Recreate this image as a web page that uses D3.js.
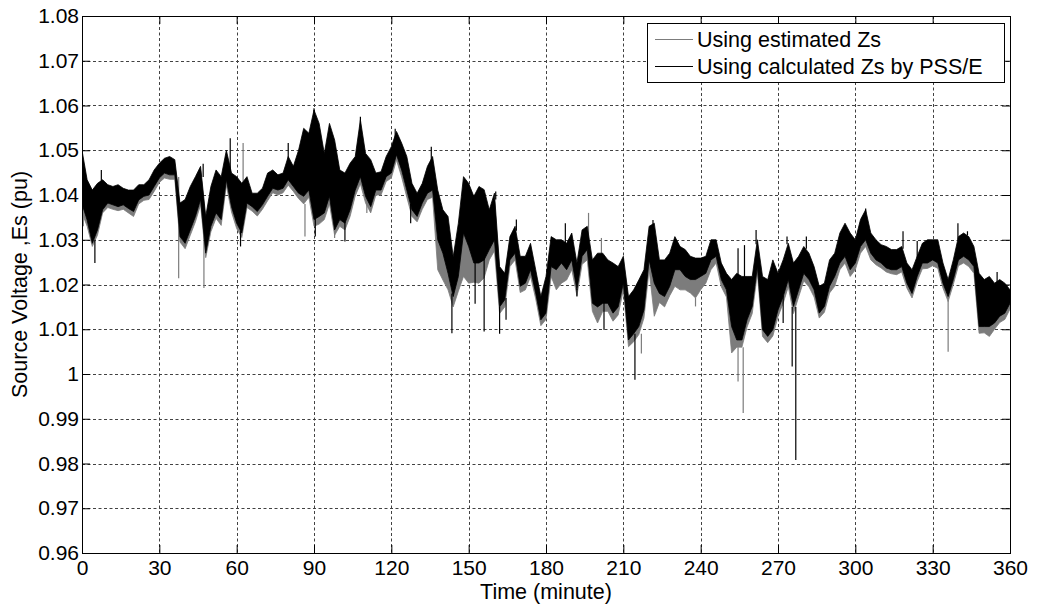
<!DOCTYPE html>
<html>
<head>
<meta charset="utf-8">
<script src="https://cdn.jsdelivr.net/npm/d3@7"></script>
<style>
  body { margin: 0; background: #fff; }
  svg { display: block; }
  text { font-family: "Liberation Sans", Arial, sans-serif; fill: #000; }
</style>
</head>
<body>
<div id="chart"></div>
<script>
// sample instants (minutes)
var times = [0,2,4,6,8,10,12,14,16,18,20,22,24,26,28,30,32,34,36,38,40,42,44,46,48,50,52,54,56,58,
  60,62,64,66,68,70,72,74,76,78,80,82,84,86,88,90,92,94,96,98,100,102,104,106,108,110,112,114,116,118,
  120,122,124,126,128,130,132,134,136,138,140,142,144,146,148,150,152,154,156,158,160,162,164,166,168,170,172,174,176,178,
  180,182,184,186,188,190,192,194,196,198,200,202,204,206,208,210,212,214,216,218,220,222,224,226,228,230,232,234,236,238,
  240,242,244,246,248,250,252,254,256,258,260,262,264,266,268,270,272,274,276,278,280,282,284,286,288,290,292,294,296,298,
  300,302,304,306,308,310,312,314,316,318,320,322,324,326,328,330,332,334,336,338,340,342,344,346,348,350,352,354,356,358,360];

// upper / lower envelope of the trace using Zs calculated by PSS/E
var calcHi = [1.0500,1.0434,1.0411,1.0426,1.0434,1.0423,1.0419,1.0423,1.0415,1.0411,1.0411,1.0423,1.0423,1.0434,1.0456,1.0471,1.0482,1.0486,1.0479,1.0382,
  1.0390,1.0419,1.0441,1.0464,1.0352,1.0419,1.0456,1.0441,1.0500,1.0449,1.0441,1.0426,1.0441,1.0404,1.0404,1.0415,1.0449,1.0456,1.0445,1.0449,
  1.0486,1.0464,1.0500,1.0549,1.0538,1.0590,1.0560,1.0493,1.0560,1.0523,1.0456,1.0449,1.0471,1.0486,1.0568,1.0493,1.0479,1.0449,1.0452,1.0486,
  1.0508,1.0542,1.0516,1.0486,1.0426,1.0404,1.0426,1.0464,1.0486,1.0411,1.0367,1.0352,1.0262,1.0337,1.0441,1.0426,1.0397,1.0419,1.0412,1.0367,
  1.0404,1.0240,1.0225,1.0307,1.0330,1.0263,1.0263,1.0292,1.0233,1.0173,1.0218,1.0307,1.0300,1.0300,1.0292,1.0315,1.0248,1.0322,1.0330,1.0255,
  1.0270,1.0270,1.0255,1.0248,1.0240,1.0263,1.0173,1.0188,1.0210,1.0233,1.0330,1.0337,1.0255,1.0255,1.0270,1.0307,1.0285,1.0278,1.0263,1.0259,
  1.0259,1.0263,1.0300,1.0300,1.0248,1.0225,1.0211,1.0225,1.0218,1.0218,1.0218,1.0300,1.0218,1.0211,1.0255,1.0225,1.0255,1.0292,1.0248,1.0263,
  1.0285,1.0270,1.0240,1.0196,1.0203,1.0255,1.0270,1.0315,1.0337,1.0315,1.0300,1.0345,1.0367,1.0315,1.0300,1.0289,1.0285,1.0278,1.0278,1.0285,
  1.0248,1.0233,1.0263,1.0292,1.0300,1.0300,1.0300,1.0248,1.0211,1.0255,1.0307,1.0315,1.0307,1.0285,1.0225,1.0211,1.0218,1.0203,1.0211,1.0203,1.0188];
var calcLo = [1.0380,1.0344,1.0292,1.0322,1.0367,1.0382,1.0378,1.0374,1.0378,1.0370,1.0363,1.0389,1.0397,1.0400,1.0419,1.0438,1.0449,1.0445,1.0445,1.0307,
  1.0292,1.0322,1.0352,1.0390,1.0270,1.0330,1.0360,1.0345,1.0434,1.0374,1.0337,1.0315,1.0382,1.0374,1.0363,1.0378,1.0397,1.0415,1.0411,1.0415,
  1.0434,1.0419,1.0404,1.0397,1.0411,1.0345,1.0352,1.0360,1.0397,1.0322,1.0345,1.0337,1.0367,1.0411,1.0441,1.0397,1.0374,1.0411,1.0411,1.0441,
  1.0449,1.0490,1.0456,1.0411,1.0367,1.0352,1.0382,1.0404,1.0411,1.0300,1.0270,1.0225,1.0173,1.0218,1.0315,1.0285,1.0248,1.0248,1.0255,1.0278,
  1.0300,1.0150,1.0166,1.0255,1.0270,1.0196,1.0203,1.0233,1.0181,1.0121,1.0136,1.0240,1.0233,1.0248,1.0233,1.0255,1.0188,1.0263,1.0278,1.0158,
  1.0150,1.0158,1.0158,1.0136,1.0150,1.0203,1.0076,1.0090,1.0106,1.0143,1.0255,1.0203,1.0180,1.0173,1.0196,1.0233,1.0233,1.0218,1.0211,1.0211,
  1.0218,1.0225,1.0255,1.0263,1.0211,1.0188,1.0106,1.0076,1.0076,1.0121,1.0151,1.0240,1.0099,1.0084,1.0099,1.0143,1.0173,1.0211,1.0151,1.0188,
  1.0225,1.0211,1.0188,1.0136,1.0151,1.0196,1.0218,1.0248,1.0263,1.0233,1.0248,1.0285,1.0300,1.0270,1.0255,1.0248,1.0237,1.0233,1.0233,1.0240,
  1.0203,1.0180,1.0218,1.0248,1.0248,1.0255,1.0248,1.0203,1.0173,1.0211,1.0255,1.0263,1.0255,1.0240,1.0106,1.0106,1.0106,1.0114,1.0129,1.0136,1.0158];

// upper / lower envelope of the trace using estimated Zs
var estHi = [1.0490,1.0425,1.0400,1.0415,1.0425,1.0415,1.0410,1.0415,1.0408,1.0402,1.0402,1.0415,1.0415,1.0425,1.0448,1.0462,1.0474,1.0478,1.0470,1.0372,
  1.0380,1.0410,1.0432,1.0455,1.0342,1.0410,1.0448,1.0432,1.0490,1.0440,1.0432,1.0418,1.0432,1.0396,1.0396,1.0406,1.0440,1.0447,1.0436,1.0440,
  1.0476,1.0455,1.0490,1.0538,1.0527,1.0578,1.0548,1.0482,1.0548,1.0512,1.0446,1.0438,1.0460,1.0476,1.0555,1.0482,1.0468,1.0440,1.0443,1.0476,
  1.0498,1.0532,1.0505,1.0474,1.0415,1.0394,1.0415,1.0452,1.0474,1.0390,1.0340,1.0320,1.0240,1.0310,1.0420,1.0400,1.0375,1.0395,1.0390,1.0350,
  1.0388,1.0228,1.0212,1.0295,1.0318,1.0250,1.0250,1.0280,1.0222,1.0162,1.0205,1.0285,1.0270,1.0268,1.0262,1.0280,1.0232,1.0305,1.0310,1.0240,
  1.0255,1.0255,1.0240,1.0232,1.0225,1.0248,1.0158,1.0172,1.0195,1.0218,1.0310,1.0315,1.0235,1.0235,1.0250,1.0280,1.0258,1.0250,1.0238,1.0232,
  1.0235,1.0245,1.0275,1.0278,1.0232,1.0210,1.0195,1.0208,1.0200,1.0200,1.0200,1.0285,1.0200,1.0195,1.0240,1.0210,1.0240,1.0275,1.0232,1.0248,
  1.0268,1.0252,1.0222,1.0180,1.0188,1.0235,1.0250,1.0295,1.0318,1.0295,1.0282,1.0325,1.0348,1.0298,1.0283,1.0272,1.0268,1.0262,1.0262,1.0268,
  1.0232,1.0218,1.0248,1.0276,1.0284,1.0284,1.0284,1.0232,1.0196,1.0240,1.0290,1.0297,1.0290,1.0268,1.0208,1.0195,1.0202,1.0188,1.0196,1.0188,1.0175];
var estLo = [1.0360,1.0330,1.0285,1.0310,1.0360,1.0372,1.0368,1.0365,1.0368,1.0360,1.0352,1.0380,1.0388,1.0390,1.0408,1.0428,1.0438,1.0435,1.0435,1.0295,
  1.0280,1.0310,1.0340,1.0378,1.0260,1.0318,1.0348,1.0332,1.0422,1.0362,1.0325,1.0305,1.0372,1.0364,1.0353,1.0368,1.0387,1.0405,1.0400,1.0405,
  1.0422,1.0408,1.0392,1.0380,1.0395,1.0330,1.0335,1.0345,1.0380,1.0310,1.0330,1.0322,1.0352,1.0398,1.0425,1.0382,1.0360,1.0400,1.0400,1.0430,
  1.0438,1.0478,1.0440,1.0395,1.0352,1.0340,1.0368,1.0390,1.0395,1.0233,1.0210,1.0188,1.0150,1.0185,1.0218,1.0203,1.0205,1.0203,1.0215,1.0255,
  1.0275,1.0135,1.0150,1.0240,1.0255,1.0182,1.0188,1.0218,1.0168,1.0108,1.0122,1.0218,1.0188,1.0203,1.0210,1.0233,1.0175,1.0245,1.0255,1.0140,
  1.0114,1.0140,1.0140,1.0118,1.0132,1.0188,1.0061,1.0072,1.0088,1.0125,1.0233,1.0129,1.0160,1.0150,1.0175,1.0196,1.0188,1.0188,1.0181,1.0170,
  1.0188,1.0203,1.0233,1.0248,1.0195,1.0172,1.0047,1.0060,1.0060,1.0105,1.0135,1.0225,1.0084,1.0070,1.0085,1.0128,1.0158,1.0195,1.0135,1.0172,
  1.0208,1.0195,1.0172,1.0125,1.0138,1.0181,1.0196,1.0233,1.0248,1.0218,1.0233,1.0270,1.0285,1.0255,1.0244,1.0237,1.0228,1.0224,1.0222,1.0228,
  1.0192,1.0170,1.0207,1.0235,1.0236,1.0242,1.0236,1.0192,1.0162,1.0200,1.0242,1.0248,1.0240,1.0225,1.0091,1.0092,1.0084,1.0100,1.0115,1.0122,1.0145];

// isolated spikes: [minute, from, to]
var calcSpikes = [[5,1.0300,1.0248],[7.5,1.0420,1.0456],[47,1.0440,1.0470],[57.5,1.0440,1.0527],[61.5,1.0320,1.0285],
  [80,1.0470,1.0516],[90,1.0560,1.0594],[90.5,1.0350,1.0307],[102,1.0340,1.0296],[108,1.0550,1.0575],[121.5,1.0520,1.0548],
  [127.5,1.0380,1.0337],[135.5,1.0470,1.0508],[143.5,1.0180,1.0091],[152.5,1.0250,1.0157],[156,1.0260,1.0095],[160.5,1.0390,1.0408],
  [162,1.0150,1.0090],[164.5,1.0170,1.0121],[168.5,1.0320,1.0345],[187.5,1.0280,1.0337],[192,1.0190,1.0173],[202.5,1.0160,1.0099],
  [214.5,1.0090,0.9987],[221.5,1.0320,1.0344],[254.5,1.0220,1.0281],[257,1.0215,1.0288],[261.5,1.0290,1.0322],[272,1.0175,1.0114],
  [273.5,1.0290,1.0307],[275.5,1.0150,1.0017],[276.9,1.0150,0.9808],[281,1.0280,1.0307],[304,1.0360,1.0370],[318.5,1.0280,1.0319],
  [324,1.0260,1.0297],[339.8,1.0300,1.0337],[343.5,1.0310,1.0319],[355,1.0200,1.0228]];
var estSpikes = [[0.5,1.0360,1.0330],[37.5,1.0440,1.0214],[47.3,1.0380,1.0192],[62.5,1.0420,1.0516],[86.5,1.0380,1.0307],
  [98,1.0320,1.0304],[110.5,1.0390,1.0360],[196.5,1.0300,1.0360],[201.5,1.0250,1.0304],[217,1.0090,1.0046],[238,1.0170,1.0151],
  [254.5,1.0060,0.9983],[256.5,1.0060,0.9913],[336,1.0165,1.0050]];

var xTicks = [0,30,60,90,120,150,180,210,240,270,300,330,360];
var yTicks = [0.96,0.97,0.98,0.99,1.00,1.01,1.02,1.03,1.04,1.05,1.06,1.07,1.08];
var yTickLabels = ["0.96","0.97","0.98","0.99","1","1.01","1.02","1.03","1.04","1.05","1.06","1.07","1.08"];
var seriesNames = ["Using estimated Zs", "Using calculated Zs by PSS/E"];
var seriesColors = ["#7c7c7c", "#000000"];

var W = 1040, H = 608;
var plotL = 82, plotT = 16, plotR = 1010, plotB = 553;

var svg = d3.select("#chart").append("svg")
  .attr("width", W)
  .attr("height", H);

var x = d3.scaleLinear().domain([0, 360]).range([plotL, plotR]);
var y = d3.scaleLinear().domain([0.96, 1.08]).range([plotB, plotT]);

// dotted grid
var grid = svg.append("g").attr("stroke", "#222").attr("stroke-width", 1)
  .attr("stroke-dasharray", "3,2.5").attr("opacity", 0.85);
grid.selectAll(".gx").data(xTicks.slice(1, -1)).enter().append("line")
  .attr("x1", function(d) { return Math.round(x(d)) + 0.5; })
  .attr("x2", function(d) { return Math.round(x(d)) + 0.5; })
  .attr("y1", plotT).attr("y2", plotB);
grid.selectAll(".gy").data(yTicks.slice(1, -1)).enter().append("line")
  .attr("y1", function(d) { return Math.round(y(d)) + 0.5; })
  .attr("y2", function(d) { return Math.round(y(d)) + 0.5; })
  .attr("x1", plotL).attr("x2", plotR);

svg.append("clipPath").attr("id", "plotClip").append("rect")
  .attr("x", plotL).attr("y", plotT).attr("width", plotR - plotL).attr("height", plotB - plotT);

var plot = svg.append("g").attr("clip-path", "url(#plotClip)");

function band(hi, lo) {
  return d3.area()
    .x(function(d, i) { return x(times[i]); })
    .y0(function(d, i) { return y(lo[i]); })
    .y1(function(d, i) { return y(hi[i]); })(times);
}

function drawTrace(hi, lo, spikes, color) {
  plot.append("path")
    .attr("d", band(hi, lo))
    .attr("fill", color)
    .attr("stroke", color)
    .attr("stroke-width", 0.8)
    .attr("stroke-linejoin", "bevel");
  plot.append("g").selectAll("line").data(spikes).enter().append("line")
    .attr("x1", function(d) { return x(d[0]); })
    .attr("x2", function(d) { return x(d[0]); })
    .attr("y1", function(d) { return y(d[1]); })
    .attr("y2", function(d) { return y(d[2]); })
    .attr("stroke", color)
    .attr("stroke-width", 1.2);
}

drawTrace(estHi, estLo, estSpikes, seriesColors[0]);
drawTrace(calcHi, calcLo, calcSpikes, seriesColors[1]);

// axes with inward ticks on all four sides
var fontSize = "21px";
var xAxis = svg.append("g").attr("transform", "translate(0," + plotB + ")")
  .call(d3.axisBottom(x).tickValues(xTicks).tickSizeInner(-8).tickSizeOuter(0).tickPadding(7.5));
var yAxis = svg.append("g").attr("transform", "translate(" + plotL + ",0)")
  .call(d3.axisLeft(y).tickValues(yTicks).tickSizeInner(-8).tickSizeOuter(0).tickPadding(3)
    .tickFormat(function(d, i) { return yTickLabels[i]; }));
var xTop = svg.append("g").attr("transform", "translate(0," + plotT + ")")
  .call(d3.axisTop(x).tickValues(xTicks).tickSizeInner(-8).tickSizeOuter(0).tickFormat(""));
var yRight = svg.append("g").attr("transform", "translate(" + plotR + ",0)")
  .call(d3.axisRight(y).tickValues(yTicks).tickSizeInner(-8).tickSizeOuter(0).tickFormat(""));

[xAxis, yAxis, xTop, yRight].forEach(function(a) {
  a.select(".domain").remove();
  a.selectAll(".tick line").attr("stroke", "#000");
  a.selectAll("text").attr("font-size", fontSize).attr("font-family", null).attr("fill", "#000");
});

svg.append("rect")
  .attr("x", plotL + 0.5).attr("y", plotT + 0.5)
  .attr("width", plotR - plotL).attr("height", plotB - plotT)
  .attr("fill", "none").attr("stroke", "#000").attr("stroke-width", 1);

// axis titles
svg.append("text")
  .attr("x", (plotL + plotR) / 2).attr("y", 599)
  .attr("text-anchor", "middle").attr("font-size", "21.5px")
  .text("Time (minute)");
svg.append("text")
  .attr("transform", "translate(27," + (plotT + plotB) / 2 + ") rotate(-90)")
  .attr("text-anchor", "middle").attr("font-size", "21.5px")
  .text("Source Voltage ,Es (pu)");

// legend
var legend = svg.append("g");
legend.append("rect")
  .attr("x", 647.5).attr("y", 23.5).attr("width", 357).attr("height", 59)
  .attr("fill", "#fff").attr("stroke", "#000").attr("stroke-width", 1);
var rows = legend.selectAll(".row").data(seriesNames).enter().append("g")
  .attr("transform", function(d, i) { return "translate(0," + (39.5 + i * 27) + ")"; });
rows.append("line")
  .attr("x1", 655).attr("x2", 693).attr("y1", 0).attr("y2", 0)
  .attr("stroke", function(d, i) { return seriesColors[i]; })
  .attr("stroke-width", 1);
rows.append("text")
  .attr("x", 697).attr("y", 7.3)
  .attr("font-size", "21.5px")
  .text(function(d) { return d; });
</script>
</body>
</html>
